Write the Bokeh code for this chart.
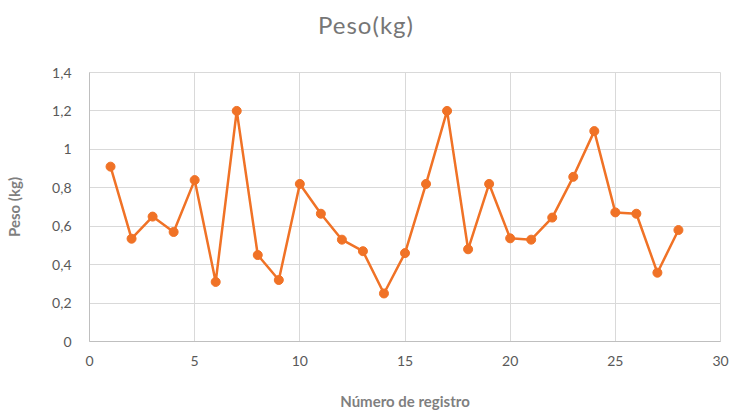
from bokeh.plotting import figure
from bokeh.layouts import column
from bokeh.models import Range1d, FixedTicker, ColumnDataSource, Div
from bokeh.embed import file_html
from bokeh.resources import INLINE

registro = list(range(1, 29))
peso = [0.91, 0.535, 0.65, 0.57, 0.84, 0.31, 1.20, 0.45, 0.32, 0.82,
        0.665, 0.53, 0.47, 0.25, 0.46, 0.82, 1.20, 0.48, 0.82, 0.537,
        0.53, 0.645, 0.857, 1.095, 0.672, 0.665, 0.358, 0.58]

x_ticks = [0, 5, 10, 15, 20, 25, 30]
y_ticks = [0, 0.2, 0.4, 0.6, 0.8, 1.0, 1.2, 1.4]
y_tick_labels = ["0", "0,2", "0,4", "0,6", "0,8", "1", "1,2", "1,4"]
title_text = "Peso(kg)"

FONT = "Lato"
ORANGE = "#F07226"
GRID = "#d9d9d9"

src = ColumnDataSource(dict(x=registro, y=peso))

title = Div(text=title_text, width=732, height=50, margin=(0, 0, 0, 0),
            styles={"text-align": "center", "font-family": FONT, "font-size": "24px",
                    "letter-spacing": "1px", "color": "#767676",
                    "line-height": "50px", "width": "732px"})

p = figure(width=732, height=362, output_backend="svg", toolbar_location=None,
           x_range=Range1d(0, 30), y_range=Range1d(0, 1.4),
           min_border_left=89, min_border_right=12, min_border_top=22, min_border_bottom=71)

p.line("x", "y", source=src, line_color=ORANGE, line_width=2.5)
p.scatter("x", "y", source=src, size=9, fill_color=ORANGE, line_color=ORANGE)

p.xaxis.ticker = FixedTicker(ticks=x_ticks)
p.yaxis.ticker = FixedTicker(ticks=y_ticks)
p.yaxis.major_label_overrides = {t: l for t, l in zip(y_ticks, y_tick_labels)}

for ax in (p.xaxis[0], p.yaxis[0]):
    ax.major_tick_line_color = None
    ax.minor_tick_line_color = None
    ax.axis_line_color = "#bfbfbf"
    ax.major_label_text_font = FONT
    ax.major_label_text_font_size = "14px"
    ax.major_label_text_color = "#595959"
    ax.axis_label_text_font = FONT
    ax.axis_label_text_font_size = "15px"
    ax.axis_label_text_font_style = "bold"
    ax.axis_label_text_color = "#7f7f7f"

p.xaxis.axis_label = "Número de registro"
p.yaxis.axis_label = "Peso (kg)"
p.xaxis.major_label_standoff = 8
p.yaxis.major_label_standoff = 12
p.xaxis.axis_label_standoff = 23
p.yaxis.axis_label_standoff = 26

p.xgrid.grid_line_color = GRID
p.ygrid.grid_line_color = GRID
p.xgrid.grid_line_width = 1
p.ygrid.grid_line_width = 1
p.outline_line_color = GRID
p.background_fill_color = "white"
p.border_fill_color = "white"

layout = column(title, p, spacing=0)

open("out.html", "w").write(file_html(layout, INLINE))
